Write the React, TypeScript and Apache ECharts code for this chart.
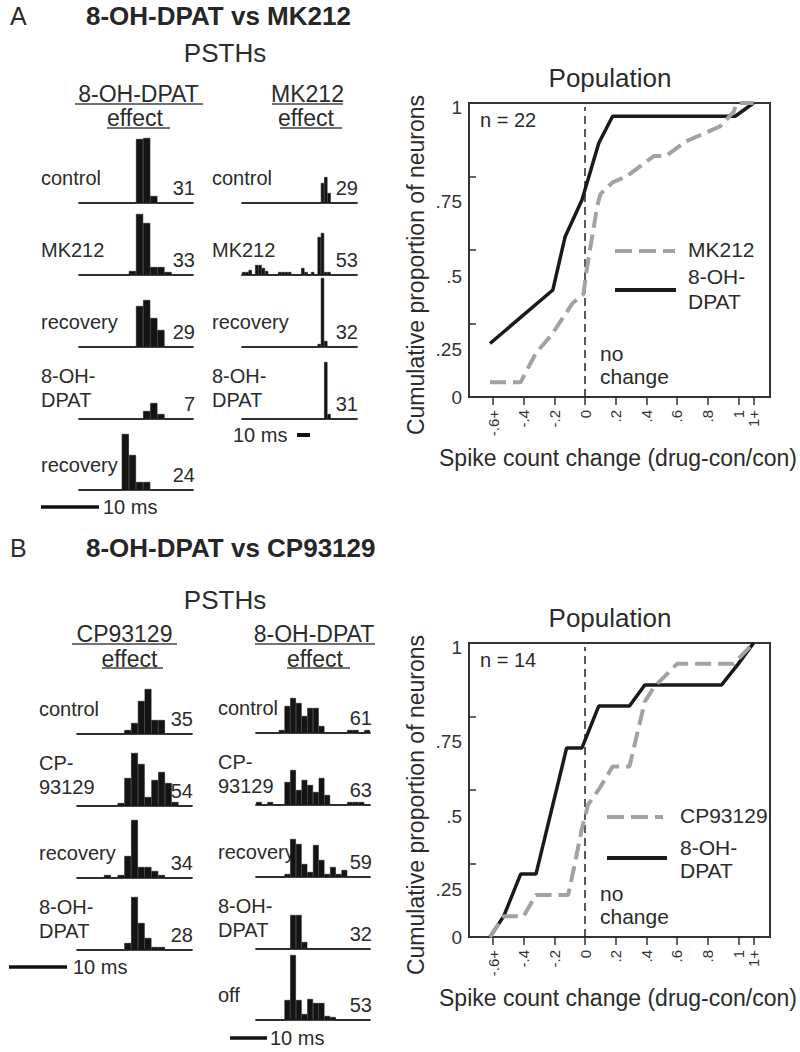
import React, { useEffect, useRef } from "react";
import * as echarts from "echarts";

const FF = "'Liberation Sans', Arial, Helvetica, sans-serif";
const INK = "#2b2b2b";
const BAR = "#141414";
const GRAY = "#a2a2a2";

// ---------------- Population (cumulative proportion) ----------------
const xTickValues = [-0.6, -0.4, -0.2, 0, 0.2, 0.4, 0.6, 0.8, 1.0, 1.1];
const xTickLabels = ["-.6+", "-.4", "-.2", "0", ".2", ".4", ".6", ".8", "1", "1+"];
const yTickLabels = ["0", ".25", ".5", ".75", "1"];
// the printed y labels sit below their ticks in the original figure
const yLabelValues = [0, 0.16, 0.41, 0.665, 0.983];

const popA_DPAT = [
  [-0.62, 0.182], [-0.21, 0.364], [-0.13, 0.545], [-0.02, 0.67], [0.09, 0.864],
  [0.18, 0.955], [0.98, 0.955], [1.1, 1.0],
];
const popA_MK212 = [
  [-0.62, 0.05], [-0.42, 0.05], [-0.32, 0.15], [-0.22, 0.21], [-0.08, 0.32], [-0.01, 0.35],
  [0.01, 0.43], [0.08, 0.65], [0.1, 0.69], [0.18, 0.73], [0.27, 0.75], [0.45, 0.82],
  [0.53, 0.82], [0.66, 0.87], [0.88, 0.92], [0.97, 0.97], [0.99, 1.0], [1.1, 1.0],
];
const popB_DPAT = [
  [-0.62, 0], [-0.53, 0.071], [-0.42, 0.214], [-0.32, 0.214], [-0.12, 0.643], [-0.02, 0.643],
  [0.09, 0.786], [0.29, 0.786], [0.39, 0.857], [0.89, 0.857], [1.0, 0.929], [1.1, 1.0],
];
const popB_CP93129 = [
  [-0.62, 0], [-0.53, 0.071], [-0.4, 0.071], [-0.32, 0.143], [-0.11, 0.143], [-0.07, 0.24],
  [-0.02, 0.37], [0.02, 0.45], [0.1, 0.51], [0.18, 0.58], [0.29, 0.58], [0.39, 0.8],
  [0.45, 0.85], [0.6, 0.929], [0.97, 0.929], [1.1, 1.0],
];
const noChange = [[0, 0], [0, 0.986]];

// ---------------- PSTH bin counts ----------------
// Panel A, 8-OH-DPAT effect (16 bins)
const A_left_conditions = ["control", "MK212", "recovery", "8-OH-\nDPAT", "recovery"];
const A_left_spikes = [31, 33, 29, 7, 24];
const A_left_bins = [
  [0, 0, 0, 0, 0, 0, 0, 0, 64, 65, 7, 0, 0, 0, 0, 0],
  [0, 0, 0, 0, 0, 0, 0, 4, 61, 52, 8, 8, 3, 0, 0, 0],
  [0, 0, 0, 0, 0, 0, 0, 0, 41, 47, 29, 17, 0, 0, 0, 0],
  [0, 0, 0, 0, 0, 0, 0, 0, 0, 8, 16, 5, 0, 0, 0, 0],
  [0, 0, 0, 0, 0, 0, 56, 35, 8, 8, 0, 0, 0, 0, 0, 0],
];
// Panel A, MK212 effect (35 bins)
const A_right_conditions = ["control", "MK212", "recovery", "8-OH-\nDPAT"];
const A_right_spikes = [29, 53, 32, 31];
const A_right_bins = [
  [0, 0, 0, 0, 0, 0, 0, 0, 0, 0, 0, 0, 0, 0, 0, 0, 0, 0, 0, 0, 0, 0, 0, 0, 20, 26, 10, 0, 0, 0, 0, 0, 0, 0, 0],
  [3, 3, 5, 0, 10, 10, 7, 4, 0, 0, 0, 3, 3, 3, 3, 0, 0, 0, 7, 3, 0, 3, 0, 38, 42, 3, 3, 0, 0, 0, 0, 0, 0, 0, 0],
  [0, 0, 0, 0, 0, 0, 0, 0, 0, 0, 0, 0, 0, 0, 0, 0, 0, 0, 0, 0, 0, 0, 0, 3, 69, 6, 0, 0, 0, 0, 0, 0, 0, 0, 0],
  [0, 0, 0, 0, 0, 0, 0, 0, 0, 0, 0, 0, 0, 0, 0, 0, 0, 0, 0, 0, 0, 0, 0, 0, 0, 57, 5, 0, 0, 0, 0, 0, 0, 0, 0],
];
// Panel B, CP93129 effect (17 bins)
const B_left_conditions = ["control", "CP-\n93129", "recovery", "8-OH-\nDPAT"];
const B_left_spikes = [35, 54, 34, 28];
const B_left_bins = [
  [0, 0, 0, 0, 0, 0, 0, 4, 11, 33, 45, 14, 14, 0, 0, 0, 0],
  [0, 0, 0, 0, 0, 0, 3, 28, 53, 42, 9, 26, 34, 23, 4, 0, 0],
  [0, 0, 0, 0, 3, 0, 3, 22, 58, 11, 11, 7, 3, 0, 0, 0, 0],
  [0, 0, 0, 0, 0, 0, 0, 7, 53, 27, 12, 3, 3, 0, 0, 0, 0],
];
// Panel B, 8-OH-DPAT effect (20 bins)
const B_right_conditions = ["control", "CP-\n93129", "recovery", "8-OH-\nDPAT", "off"];
const B_right_spikes = [61, 63, 59, 32, 53];
const B_right_bins = [
  [0, 0, 0, 0, 3, 27, 35, 30, 17, 25, 25, 7, 0, 0, 0, 0, 3, 3, 0, 3],
  [3, 0, 3, 0, 0, 23, 35, 15, 25, 20, 13, 27, 10, 0, 0, 0, 3, 3, 3, 0],
  [0, 0, 0, 0, 0, 3, 38, 33, 13, 5, 32, 17, 3, 10, 3, 7, 0, 0, 0, 0],
  [0, 0, 0, 0, 0, 0, 34, 34, 7, 0, 0, 0, 0, 0, 0, 0, 0, 0, 0, 0],
  [0, 0, 0, 0, 0, 20, 65, 20, 6, 21, 17, 17, 4, 3, 0, 0, 0, 0, 0, 0],
];

// ---------------- layout of the PSTH columns ----------------
const psthPanels = [
  { left: 79, width: 114, baselines: [203, 275, 347, 419, 490], labelX: 41, numRight: 195, bins: A_left_bins, names: A_left_conditions, spikes: A_left_spikes },
  { left: 242, width: 115, baselines: [203, 275, 347, 419], labelX: 212, numRight: 358, bins: A_right_bins, names: A_right_conditions, spikes: A_right_spikes },
  { left: 77, width: 115, baselines: [734, 806, 878, 950], labelX: 39, numRight: 193, bins: B_left_bins, names: B_left_conditions, spikes: B_left_spikes },
  { left: 256, width: 114, baselines: [733, 805, 877, 949, 1020], labelX: 218, numRight: 372, bins: B_right_bins, names: B_right_conditions, spikes: B_right_spikes },
];
const PSTH_H = 72;

function txt(x: number, y: number, text: string, size: number, o: any = {}) {
  return {
    type: "text",
    x,
    y,
    rotation: o.rot || 0,
    silent: true,
    style: {
      text,
      fill: o.color || INK,
      font: `${o.weight || "normal"} ${size}px ${FF}`,
      textAlign: o.align || "left",
      textVerticalAlign: "middle",
      lineHeight: o.lh || Math.round(size * 1.1),
    },
  };
}
function seg(x1: number, y1: number, x2: number, y2: number, w: number, color: string, dash?: number[]) {
  return {
    type: "line",
    silent: true,
    shape: { x1, y1, x2, y2 },
    style: { stroke: color, lineWidth: w, lineDash: dash || null },
  };
}

function buildOption() {
  const grid: any[] = [];
  const xAxis: any[] = [];
  const yAxis: any[] = [];
  const series: any[] = [];
  const graphic: any[] = [];

  const fmtX = (v: number) => {
    const i = xTickValues.findIndex((t) => Math.abs(t - v) < 1e-6);
    return i >= 0 ? xTickLabels[i] : "";
  };
  const fmtY = (v: number) => {
    const i = yLabelValues.findIndex((t) => Math.abs(t - v) < 1e-6);
    return i >= 0 ? yTickLabels[i] : "";
  };

  const addPop = (top: number, dpat: number[][], other: number[][]) => {
    const gi = grid.length;
    grid.push({ left: 469, top, width: 301, height: 294, show: true, borderColor: "#333", borderWidth: 2, backgroundColor: "transparent", outerBoundsMode: "none" });
    xAxis.push({
      type: "value", gridIndex: gi, min: -0.757, max: 1.207,
      axisLine: { show: true, onZero: false, lineStyle: { color: "#333", width: 2 } },
      axisTick: { show: true, customValues: xTickValues, length: 8, lineStyle: { color: "#333", width: 1.5 } },
      axisLabel: {
        show: true, customValues: xTickValues, rotate: 90, margin: 13, fontSize: 15, color: "#333", fontFamily: FF,
        formatter: fmtX, hideOverlap: false, showMinLabel: true, showMaxLabel: true,
      },
      splitLine: { show: false },
    });
    yAxis.push({
      type: "value", gridIndex: gi, min: 0, max: 1, interval: 0.25,
      axisLine: { show: true, onZero: false, lineStyle: { color: "#333", width: 2 } },
      axisTick: { show: true, inside: true, length: 7, lineStyle: { color: "#333", width: 1.5 } },
      axisLabel: {
        show: true, customValues: yLabelValues, margin: 7, fontSize: 19, color: "#333", fontFamily: FF,
        formatter: fmtY, hideOverlap: false, showMinLabel: true, showMaxLabel: true,
      },
      splitLine: { show: false },
    });
    series.push({ type: "line", xAxisIndex: gi, yAxisIndex: gi, data: noChange, symbol: "none", silent: true, z: 1, lineStyle: { color: "#222", width: 1.5, type: [8, 5] } });
    series.push({ type: "line", xAxisIndex: gi, yAxisIndex: gi, data: dpat, symbol: "none", silent: true, z: 2, lineStyle: { color: "#1a1a1a", width: 3.5 } });
    series.push({ type: "line", xAxisIndex: gi, yAxisIndex: gi, data: other, symbol: "none", silent: true, z: 3, lineStyle: { color: GRAY, width: 4, type: [16, 7] } });
  };

  addPop(103, popA_DPAT, popA_MK212);
  addPop(643, popB_DPAT, popB_CP93129);

  psthPanels.forEach((p) => {
    p.bins.forEach((counts, r) => {
      const gi = grid.length;
      const base = p.baselines[r];
      grid.push({ left: p.left, top: base - PSTH_H, width: p.width, height: PSTH_H, outerBoundsMode: "none" });
      xAxis.push({
        type: "category", gridIndex: gi, data: counts.map((_, i) => String(i)), boundaryGap: true,
        axisLine: { show: true, lineStyle: { color: "#4a4a4a", width: 2 } },
        axisTick: { show: false }, axisLabel: { show: false }, splitLine: { show: false },
      });
      yAxis.push({ type: "value", gridIndex: gi, min: 0, max: PSTH_H, show: false, splitLine: { show: false } });
      series.push({
        type: "bar", xAxisIndex: gi, yAxisIndex: gi, data: counts, barWidth: "100%", barCategoryGap: "0%",
        silent: true, itemStyle: { color: BAR, borderColor: BAR, borderWidth: 0.6 },
      });
      const name = p.names[r];
      const twoLines = name.indexOf("\n") >= 0;
      graphic.push(txt(p.labelX, base - (twoLines ? 31 : 25), name, 20, { lh: 24 }));
      graphic.push(txt(p.numRight, base - 15, String(p.spikes[r]), 20, { align: "right" }));
    });
  });

  // ---- Panel A headers ----
  graphic.push(txt(10, 16, "A", 25));
  graphic.push(txt(86, 16, "8-OH-DPAT vs MK212", 26, { weight: "bold", color: "#262626" }));
  graphic.push(txt(225, 53, "PSTHs", 26, { align: "center" }));
  graphic.push(txt(138.5, 94, "8-OH-DPAT", 23, { align: "center", lh: 20 }));
  graphic.push(seg(75, 104, 203, 104, 1.5, "#444"));
  graphic.push(txt(135, 118, "effect", 23, { align: "center", lh: 20 }));
  graphic.push(seg(107, 128, 170, 128, 1.5, "#444"));
  graphic.push(txt(307.5, 94, "MK212", 23, { align: "center", lh: 20 }));
  graphic.push(seg(272, 104, 343, 104, 1.5, "#444"));
  graphic.push(txt(306, 118, "effect", 23, { align: "center", lh: 20 }));
  graphic.push(seg(280, 128, 342, 128, 1.5, "#444"));
  // scale bars A
  graphic.push(seg(41, 507, 99, 507, 3.5, "#111"));
  graphic.push(txt(103, 507, "10 ms", 20));
  graphic.push(txt(233, 435, "10 ms", 20));
  graphic.push(seg(297, 435, 310, 435, 4, "#111"));

  // ---- Panel A population texts ----
  graphic.push(txt(610, 78, "Population", 26, { align: "center" }));
  graphic.push(txt(480, 120, "n = 22", 20));
  graphic.push(txt(600, 353, "no", 21, { lh: 20 }));
  graphic.push(txt(600, 376, "change", 21, { lh: 20 }));
  graphic.push(seg(615, 251, 675, 251, 4, GRAY, [17, 7]));
  graphic.push(txt(688, 249, "MK212", 21));
  graphic.push(seg(615, 290, 676, 290, 4, "#1a1a1a"));
  graphic.push(txt(688, 289, "8-OH-\nDPAT", 21, { lh: 25 }));
  graphic.push(txt(416, 265, "Cumulative proportion of neurons", 23, { align: "center", rot: Math.PI / 2 }));
  graphic.push(txt(618, 458, "Spike count change (drug-con/con)", 23, { align: "center" }));

  // ---- Panel B headers ----
  graphic.push(txt(10, 548, "B", 25));
  graphic.push(txt(86, 548, "8-OH-DPAT vs CP93129", 26, { weight: "bold", color: "#262626" }));
  graphic.push(txt(225, 600, "PSTHs", 26, { align: "center" }));
  graphic.push(txt(124.5, 634, "CP93129", 23, { align: "center", lh: 20 }));
  graphic.push(seg(72, 644, 177, 644, 1.5, "#444"));
  graphic.push(txt(129.5, 659, "effect", 23, { align: "center", lh: 20 }));
  graphic.push(seg(102, 668, 163, 668, 1.5, "#444"));
  graphic.push(txt(314, 634, "8-OH-DPAT", 23, { align: "center", lh: 20 }));
  graphic.push(seg(255, 644, 375, 644, 1.5, "#444"));
  graphic.push(txt(315, 659, "effect", 23, { align: "center", lh: 20 }));
  graphic.push(seg(287, 668, 350, 668, 1.5, "#444"));
  // scale bars B
  graphic.push(seg(9, 967, 67, 967, 3.5, "#111"));
  graphic.push(txt(73, 967, "10 ms", 20));
  graphic.push(seg(230, 1038, 267, 1038, 3.5, "#111"));
  graphic.push(txt(270, 1038, "10 ms", 20));

  // ---- Panel B population texts ----
  graphic.push(txt(610, 618, "Population", 26, { align: "center" }));
  graphic.push(txt(480, 660, "n = 14", 20));
  graphic.push(txt(600, 893, "no", 21, { lh: 20 }));
  graphic.push(txt(600, 916, "change", 21, { lh: 20 }));
  graphic.push(seg(607, 817, 663, 817, 4, GRAY, [17, 7]));
  graphic.push(txt(680, 815, "CP93129", 21));
  graphic.push(seg(607, 858, 667, 858, 4, "#1a1a1a"));
  graphic.push(txt(680, 859, "8-OH-\nDPAT", 21, { lh: 23 }));
  graphic.push(txt(416, 805, "Cumulative proportion of neurons", 23, { align: "center", rot: Math.PI / 2 }));
  graphic.push(txt(618, 998, "Spike count change (drug-con/con)", 23, { align: "center" }));

  return {
    animation: false,
    backgroundColor: "#ffffff",
    textStyle: { fontFamily: FF },
    grid,
    xAxis,
    yAxis,
    series,
    graphic: { elements: graphic },
  };
}

export default function App() {
  const ref = useRef<HTMLDivElement>(null);
  useEffect(() => {
    if (!ref.current) return;
    const chart = echarts.init(ref.current, null, { renderer: "svg" });
    chart.setOption(buildOption() as any);
    return () => chart.dispose();
  }, []);
  return (
    <div
      ref={ref}
      style={{ position: "absolute", left: 0, top: 0, width: 800, height: 1052, background: "#fff" }}
    />
  );
}
